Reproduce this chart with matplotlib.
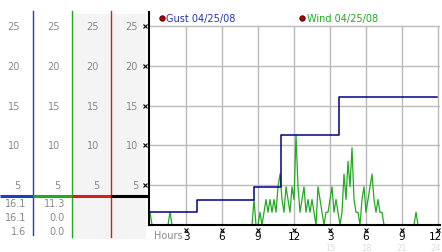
import matplotlib
matplotlib.use("Agg")
import matplotlib.pyplot as plt
import matplotlib.transforms as mtransforms
import numpy as np

# gust steps (hours, mph)
gust_hours = [0.0, 3.9, 8.7, 10.9, 15.75, 23.9]
gust_vals = [1.6, 3.2, 4.8, 11.3, 16.1, 16.1]

# wind samples every 10 min, 0..24 h
wind_vals = [
    1.6, 0, 0, 0, 0, 0, 0, 0, 0, 0, 1.6, 0,            # 0-2h
    0, 0, 0, 0, 0, 0, 0, 0, 0, 0, 0, 0,                # 2-4h
    0, 0, 0, 0, 0, 0, 0, 0, 0, 0, 0, 0,                # 4-6h
    0, 0, 0, 0, 0, 0, 0, 0, 0, 0, 0, 0,                # 6-8h
    0, 0, 0, 0, 3.2, 0, 0, 1.6, 0, 1.6, 3.2, 1.6,      # 8-10h
    3.2, 1.6, 3.2, 1.6, 4.8, 6.4, 3.2, 1.6, 4.8, 3.2, 1.6, 4.8,   # 10-12h
    3.2, 11.3, 4.8, 1.6, 3.2, 4.8, 1.6, 3.2, 1.6, 3.2, 1.6, 0,    # 12-14h
    4.8, 3.2, 1.6, 0, 1.6, 1.6, 3.2, 4.8, 1.6, 3.2, 1.6, 0,       # 14-16h
    1.6, 6.4, 3.2, 8.0, 4.8, 9.7, 3.2, 1.6, 1.6, 0, 3.2, 4.8,     # 16-18h
    1.6, 3.2, 4.8, 6.4, 3.2, 1.6, 3.2, 1.6, 1.6, 0, 0, 0,         # 18-20h
    0, 0, 0, 0, 0, 0, 0, 0, 0, 0, 0, 0,                # 20-22h
    0, 1.6, 0, 0, 0, 0, 0, 0, 0, 0, 0, 0,              # 22-24h
    0,
]
wind_hours = np.arange(len(wind_vals)) / 6.0

y_ticks = [5, 10, 15, 20, 25]
hour_ticks = [3, 6, 9, 12, 15, 18, 21, 24]
hour_labels = ['3', '6', '9', '12', '3', '6', '9', '12']
hour_labels2 = ['15', '18', '21', '24']

gust_stats = ['16.1', '16.1', '1.6']
wind_stats = ['11.3', '0.0', '0.0']

GUST = '#000088'
BLUE = '#1a3fc0'
GREEN = '#22aa22'
RED = '#cc2222'
LBL = '#888888'

W, H = 442, 253
fig = plt.figure(figsize=(W / 100, H / 100), dpi=100)

# overlay in pixel coordinates for the side panel
ov = fig.add_axes([0, 0, 1, 1])
ov.set_xlim(0, W)
ov.set_ylim(H, 0)
ov.axis('off')

ov.add_patch(plt.Rectangle((72, 15), 39, 225, color='#f4f4f4', lw=0))
ov.add_patch(plt.Rectangle((111, 15), 35, 225, color='#f4f4f4', lw=0))

ov.plot([33, 33], [12, 236], color=BLUE, lw=1)
ov.plot([72, 72], [12, 238], color=GREEN, lw=1)
ov.plot([111, 111], [12, 238], color=RED, lw=1)

ov.plot([0, 33], [197, 197], color=BLUE, lw=2.2, solid_capstyle='butt')
ov.plot([33, 72], [197, 197], color=GREEN, lw=2.2, solid_capstyle='butt')
ov.plot([72, 111], [197, 197], color=RED, lw=2.2, solid_capstyle='butt')
ov.plot([111, 149], [197, 197], color='black', lw=2.2, solid_capstyle='butt')

# main chart
x0, x1 = 149, 440
y_top, y_zero = 13, 226
ax = fig.add_axes([x0 / W, (H - y_zero) / H, (x1 - x0) / W, (y_zero - y_top) / H])
ax.set_facecolor('none')
ax.set_xlim((x0 - 150) / 12.0, (x1 - 150) / 12.0)
ax.set_ylim(0, (y_zero - y_top) / 7.96)

for s in ['top', 'right']:
    ax.spines[s].set_visible(False)
ax.spines['left'].set_linewidth(1.5)
ax.spines['bottom'].set_linewidth(1.5)

ax.hlines(y_ticks, ax.get_xlim()[0], ax.get_xlim()[1], color='#bbbbbb', lw=1, zorder=1)
ax.vlines(hour_ticks, 0, 25, color='#bbbbbb', lw=1, zorder=1)

ax.plot(wind_hours, wind_vals, color=GREEN, lw=0.9, zorder=2)
ax.plot(gust_hours, gust_vals, color=GUST, lw=1.1, drawstyle='steps-post', zorder=3)

ax.set_yticks([])
ax.set_xticks(hour_ticks)
ax.set_xticklabels(hour_labels, fontsize=7.5)
ax.tick_params(axis='x', length=0, pad=4.5)
# keep the last label inside the canvas
last = ax.get_xticklabels()[-1]
last.set_transform(last.get_transform() +
                   mtransforms.ScaledTranslation(-0.025, 0, fig.dpi_scale_trans))

# little tick glyphs
ax.plot(hour_ticks, [-0.022] * len(hour_ticks), 'x', ms=2.5, mew=0.8, color='black',
        transform=ax.get_xaxis_transform(), clip_on=False)
ax.plot([-0.014] * len(y_ticks), y_ticks, 'x', ms=2.5, mew=0.8, color='black',
        transform=ax.get_yaxis_transform(), clip_on=False, zorder=5)

ax.text(0.3, -0.025, 'Hours', transform=ax.get_xaxis_transform(), fontsize=7,
        color=LBL, va='top', ha='left')
for h, lab in zip(hour_ticks[4:], hour_labels2):
    ax.text(h - (0.2 if lab == '24' else 0), -0.085, lab,
            transform=ax.get_xaxis_transform(), fontsize=6,
            color='#dddddd', va='top', ha='center')

# legend
ax.plot([1.0], [0.97], 'o', ms=4, color='#aa0000', mec='#440000', mew=0.5,
        transform=ax.get_xaxis_transform(), clip_on=False)
ax.text(1.35, 0.97, 'Gust 04/25/08', transform=ax.get_xaxis_transform(),
        fontsize=7, color='#2233aa', va='center')
ax.plot([12.7], [0.97], 'o', ms=4, color='#aa0000', mec='#440000', mew=0.5,
        transform=ax.get_xaxis_transform(), clip_on=False)
ax.text(13.05, 0.97, 'Wind 04/25/08', transform=ax.get_xaxis_transform(),
        fontsize=7, color=GREEN, va='center')

# side panel labels, aligned with the chart's y scale
for v in y_ticks:
    yp = y_zero - v * 7.96
    for xr in [20, 60, 99, 138]:
        ov.text(xr, yp, str(v), fontsize=7, color=LBL, ha='right', va='center')

for i, (g, w) in enumerate(zip(gust_stats, wind_stats)):
    yp = 204 + i * 14
    ov.text(26, yp, g, fontsize=7, color=LBL, ha='right', va='center')
    ov.text(65, yp, w, fontsize=7, color=LBL, ha='right', va='center')

fig.savefig('out.png', dpi=100)
